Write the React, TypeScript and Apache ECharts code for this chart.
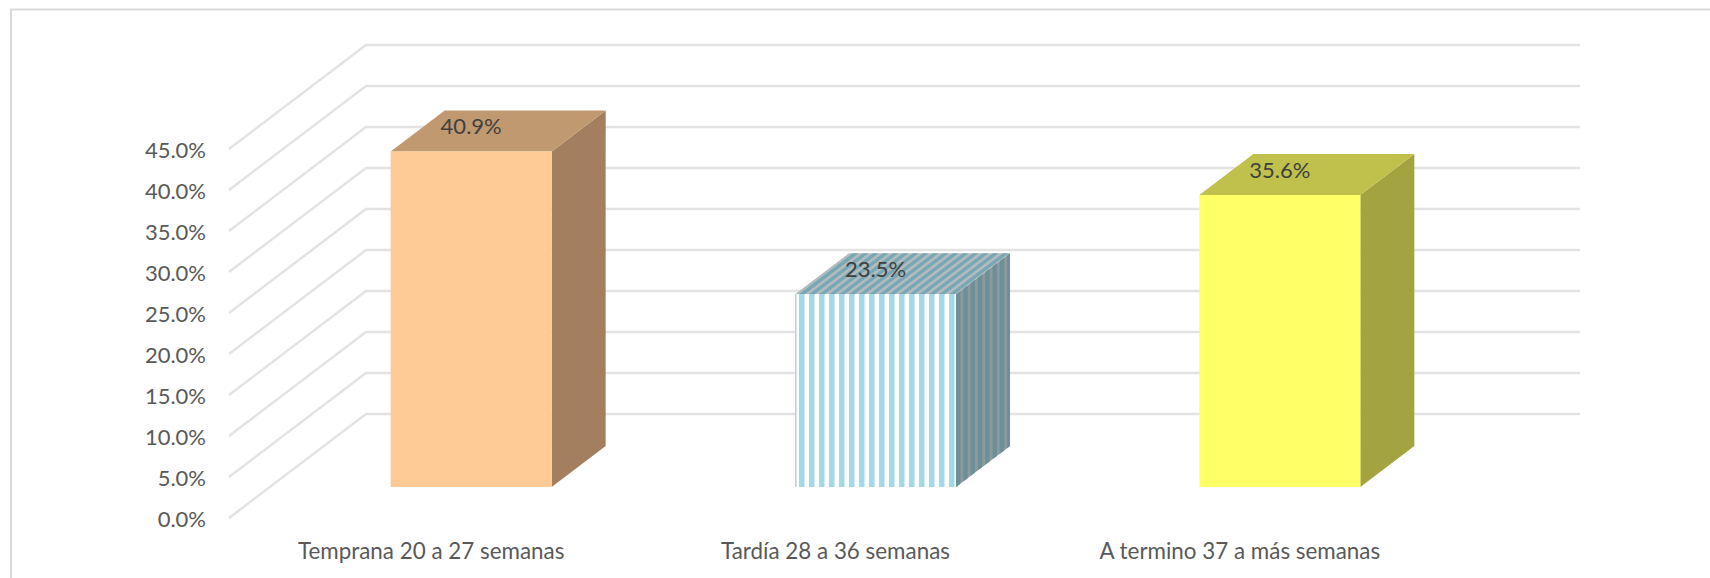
import React, { useEffect, useRef } from "react";
import * as echarts from "echarts";

const categories = ["Temprana 20 a 27 semanas", "Tardía 28 a 36 semanas", "A termino 37 a más semanas"];
const percentages = [40.9, 23.5, 35.6];
const gridTicks = [0, 5, 10, 15, 20, 25, 30, 35, 40, 45];

const faceColors = [
  { front: "#fecb96", top: "#c09970", side: "#a47f5f" },
  { front: "#ffffff", top: "#b2bbbe", side: "#8b9a9c" },
  { front: "#ffff66", top: "#c0c04c", side: "#a3a33f" },
];
const stripedBar = 1;
const stripeColors = { front: "#a3d8e8", top: "#78a7b5", side: "#6e8e98" };

const FONT = "Lato, Carlito, sans-serif";
const AXIS_TEXT = "#595959";
const GRID_LINE = "#e3e3e3";

// 3D projection, in pixels
const WALL_DX = 137;
const WALL_DY = 104;
const WALL_W = 1214;
const BAR_SHIFT_X = 40;
const BAR_SHIFT_Y = 31;
const BAR_W = 161;
const BAR_DX = 54;
const BAR_DY = 41;

function poly(points: number[][], fill: string) {
  return { type: "polygon", shape: { points }, style: { fill, stroke: null }, silent: true };
}

function renderGridLine(params: any, api: any) {
  const sys = params.coordSys;
  const y = api.coord([0, api.value(1)])[1];
  return {
    type: "polyline",
    silent: true,
    shape: {
      points: [
        [sys.x, y],
        [sys.x + WALL_DX, y - WALL_DY],
        [sys.x + WALL_DX + WALL_W, y - WALL_DY],
      ],
    },
    style: { stroke: GRID_LINE, lineWidth: 2.5, fill: null },
  };
}

function renderBar(params: any, api: any) {
  const i = api.value(0);
  const v = api.value(1);
  const top0 = api.coord([i, v]);
  const base0 = api.coord([i, 0]);
  const x0 = top0[0] + BAR_SHIFT_X - BAR_W / 2;
  const x1 = x0 + BAR_W;
  const t = top0[1] - BAR_SHIFT_Y;
  const b = base0[1] - BAR_SHIFT_Y;
  const c = faceColors[i];
  const children: any[] = [
    poly([[x1, t], [x1 + BAR_DX, t - BAR_DY], [x1 + BAR_DX, b - BAR_DY], [x1, b]], c.side),
    poly([[x0, t], [x1, t], [x1 + BAR_DX, t - BAR_DY], [x0 + BAR_DX, t - BAR_DY]], c.top),
    poly([[x0, t], [x1, t], [x1, b], [x0, b]], c.front),
  ];
  if (i === stripedBar) {
    for (let s = x0 + 4; s < x1; s += 10) {
      const e = Math.min(s + 5.5, x1);
      children.push(poly([[s, t], [e, t], [e, b], [s, b]], stripeColors.front));
      children.push(
        poly([[s, t], [e, t], [e + BAR_DX, t - BAR_DY], [s + BAR_DX, t - BAR_DY]], stripeColors.top)
      );
    }
    children.push(poly([[x0, t], [x0 + 1.5, t], [x0 + 1.5, b], [x0, b]], stripeColors.front));
    const slope = BAR_DY / BAR_DX;
    for (let d = 0; d < BAR_DX; d += 7.3) {
      const e = Math.min(d + 4.4, BAR_DX);
      children.push(
        poly(
          [
            [x1 + d, t - d * slope],
            [x1 + e, t - e * slope],
            [x1 + e, b - e * slope],
            [x1 + d, b - d * slope],
          ],
          stripeColors.side
        )
      );
    }
  }
  children.push({
    type: "text",
    silent: true,
    style: {
      x: x0 + BAR_W / 2,
      y: t - 26,
      text: v.toFixed(1) + "%",
      fill: "#404040",
      font: `22px ${FONT}`,
      textAlign: "center",
      textVerticalAlign: "middle",
    },
  });
  return { type: "group", children };
}

export default function App() {
  const ref = useRef<HTMLDivElement>(null);
  useEffect(() => {
    const chart = echarts.init(ref.current!, null, { renderer: "svg" });
    chart.setOption({
      animation: false,
      backgroundColor: "#ffffff",
      graphic: [
        {
          type: "polyline",
          silent: true,
          z: 0,
          shape: { points: [[11, 578], [11, 9.5], [1710, 9.5]] },
          style: { stroke: "#d9d9d9", lineWidth: 2, fill: null },
        },
      ],
      grid: { left: 229, top: 149, width: 1213, height: 369 },
      xAxis: {
        type: "category",
        data: categories,
        axisLine: { show: false },
        axisTick: { show: false },
        splitLine: { show: false },
        axisLabel: { color: AXIS_TEXT, fontFamily: FONT, fontSize: 22.4, margin: 21, interval: 0 },
      },
      yAxis: {
        type: "value",
        min: 0,
        max: 45,
        interval: 5,
        axisLine: { show: false },
        axisTick: { show: false },
        splitLine: { show: false },
        axisLabel: {
          color: AXIS_TEXT,
          fontFamily: FONT,
          fontSize: 22,
          margin: 23,
          padding: [4, 0, 0, 0],
          formatter: (v: number) => v.toFixed(1) + "%",
        },
      },
      series: [
        {
          type: "custom",
          name: "grid",
          clip: false,
          z: 1,
          silent: true,
          renderItem: renderGridLine,
          data: gridTicks.map((t) => [0, t]),
        },
        {
          type: "custom",
          name: "Edad gestacional",
          clip: false,
          z: 2,
          silent: true,
          renderItem: renderBar,
          data: percentages.map((p, i) => [i, p]),
        },
      ],
    });
    return () => chart.dispose();
  }, []);
  return <div ref={ref} style={{ position: "fixed", left: 0, top: 0, width: 1710, height: 578 }} />;
}
